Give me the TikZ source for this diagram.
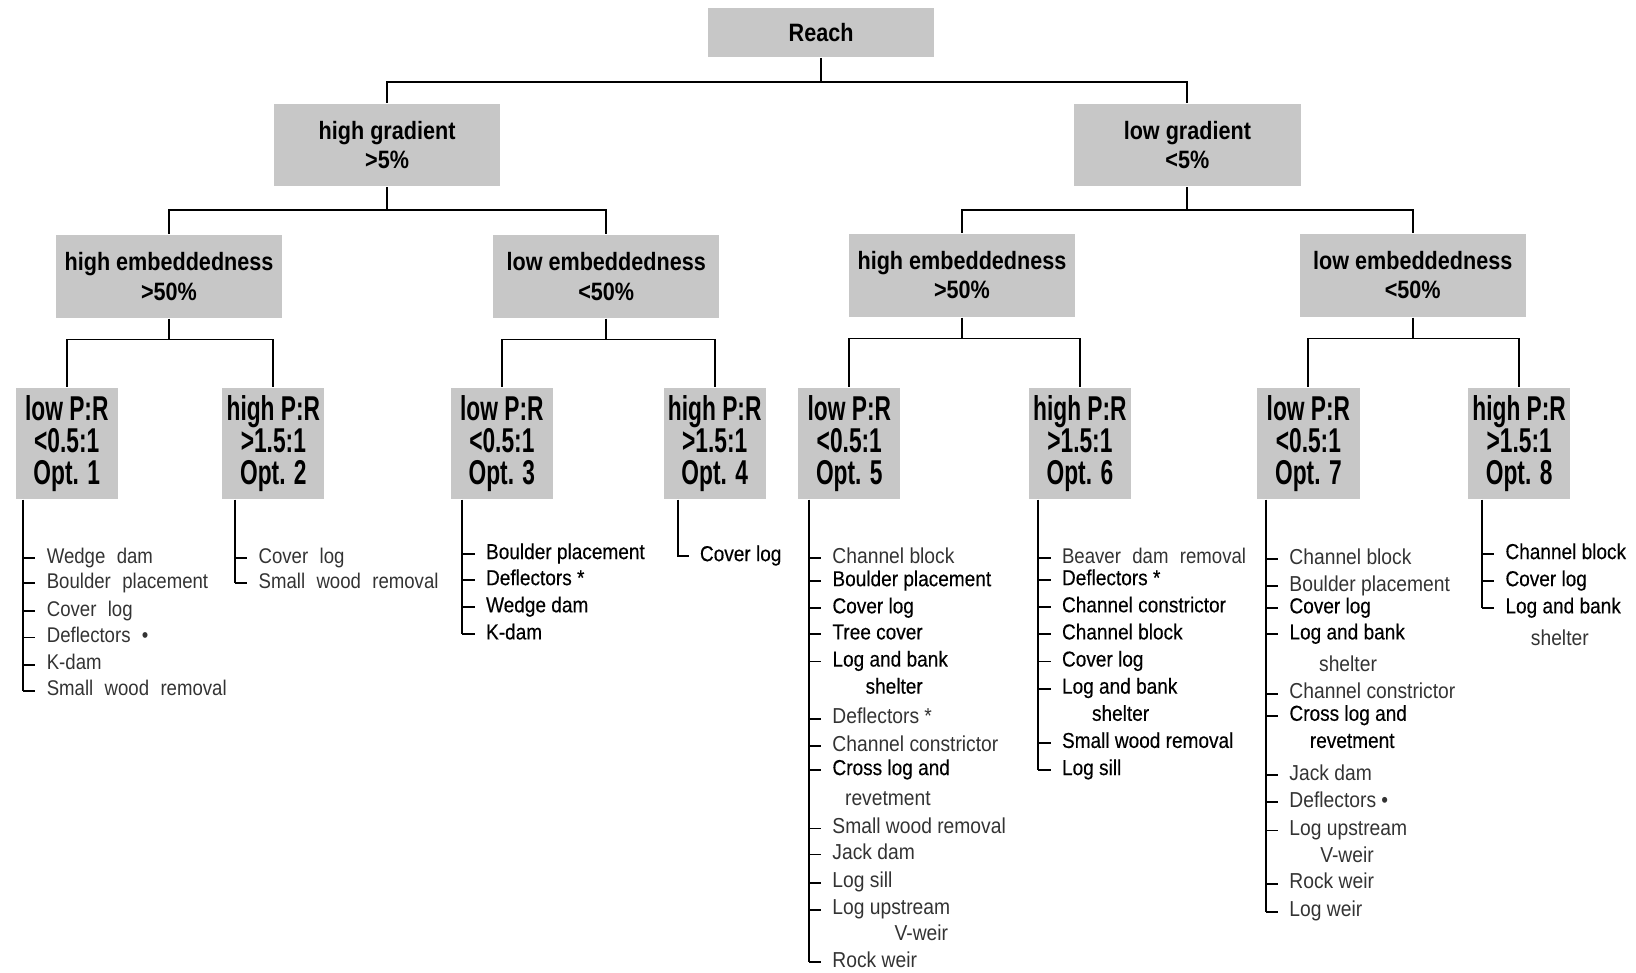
\documentclass[tikz,border=0pt]{standalone}
\usepackage{fontspec}
\setmainfont{Liberation Sans}
\newfontfamily\hdfont[FakeStretch=0.86]{Liberation Sans}
\newfontfamily\prfont[FakeStretch=0.66]{Liberation Sans}
\newfontfamily\itfont[FakeStretch=0.88,FakeBold=0.3]{Liberation Sans}
\newfontfamily\itlight[FakeStretch=0.89]{Liberation Sans}
\newfontfamily\itwide[FakeStretch=0.875,WordSpace=2.2]{Liberation Sans}

\tikzset{
  box/.style={fill=black!22, inner sep=0pt, align=center},
  hdbox/.style={box, minimum width=4.34cm, minimum height=1.58cm, font=\hdfont\bfseries\fontsize{13.7}{15.9}\selectfont},
  prbox/.style={box, minimum width=1.96cm, minimum height=2.12cm, font=\prfont\bfseries\fontsize{18.8}{17.4}\selectfont},
  rg/.style={anchor=west, inner xsep=0.2cm, inner ysep=0pt, text height=0.75em, text depth=0.2em, font=\itfont\fontsize{11.8}{12}\selectfont},
  lt/.style={rg, text=black!80, font=\itlight\fontsize{11.8}{12}\selectfont},
  ltw/.style={lt, font=\itwide\fontsize{11.6}{12}\selectfont},
  cont/.style={anchor=center, inner xsep=0pt}
}

\begin{document}
\begin{tikzpicture}[x=0.02cm,y=-0.02cm,line width=1pt]

    \useasboundingbox (0,0) rectangle (1568,932);

    % decision boxes
    \node[hdbox, minimum height=0.94cm] (reach) at (787,31) {Reach};
    \node[hdbox] (hg) at (371,139) {high gradient\\>5\%};
    \node[hdbox] (lg) at (1138,139) {low gradient\\<5\%};
    \node[hdbox] (he1) at (162,265) {high embeddedness\\>50\%};
    \node[hdbox] (le1) at (581,265) {low embeddedness\\<50\%};
    \node[hdbox] (he2) at (922,264) {high embeddedness\\>50\%};
    \node[hdbox] (le2) at (1354,264) {low embeddedness\\<50\%};

    % option boxes
    \node[prbox] (o1) at (64,425) {low P:R\\<0.5:1\\Opt. 1};
    \node[prbox] (o2) at (262,425) {high P:R\\>1.5:1\\Opt. 2};
    \node[prbox] (o3) at (481,425) {low P:R\\<0.5:1\\Opt. 3};
    \node[prbox] (o4) at (685,425) {high P:R\\>1.5:1\\Opt. 4};
    \node[prbox] (o5) at (814,425) {low P:R\\<0.5:1\\Opt. 5};
    \node[prbox] (o6) at (1035,425) {high P:R\\>1.5:1\\Opt. 6};
    \node[prbox] (o7) at (1254,425) {low P:R\\<0.5:1\\Opt. 7};
    \node[prbox] (o8) at (1456,425) {high P:R\\>1.5:1\\Opt. 8};

    % tree connectors
    \draw (reach.south) -- ++(0,23) coordinate (j0) -| (hg.north) (j0) -| (lg.north);
    \draw (hg.south) -- ++(0,22) coordinate (j1) -| (he1.north) (j1) -| (le1.north);
    \draw (lg.south) -- ++(0,22) coordinate (j2) -| (he2.north) (j2) -| (le2.north);
    \draw (he1.south) -- ++(0,20) coordinate (j3) -| (o1.north) (j3) -| (o2.north);
    \draw (le1.south) -- ++(0,20) coordinate (j4) -| (o3.north) (j4) -| (o4.north);
    \draw (he2.south) -- ++(0,20) coordinate (j5) -| (o5.north) (j5) -| (o6.north);
    \draw (le2.south) -- ++(0,20) coordinate (j6) -| (o7.north) (j6) -| (o8.north);

    % option 1
    \coordinate (v1) at (22,0 |- o1.south);
    \foreach \t/\y [count=\i] in {Wedge dam/535, Boulder placement/559, Cover log/586, Deflectors •/611, K-dam/637, Small wood removal/662}{
        \node[ltw] (o1-\i) at (34,\y) {\t};
        \draw (v1 |- o1-\i.west) -- (o1-\i.west);
    }
    \draw (v1) -- (v1 |- o1-6.west);

    % option 2
    \coordinate (v2) at (225,0 |- o2.south);
    \foreach \t/\y [count=\i] in {Cover log/535, Small wood removal/559}{
        \node[ltw] (o2-\i) at (237,\y) {\t};
        \draw (v2 |- o2-\i.west) -- (o2-\i.west);
    }
    \draw (v2) -- (v2 |- o2-2.west);

    % option 3
    \coordinate (v3) at (443,0 |- o3.south);
    \foreach \t/\y [count=\i] in {Boulder placement/531, Deflectors */556, Wedge dam/582, K-dam/608}{
        \node[rg] (o3-\i) at (455,\y) {\t};
        \draw (v3 |- o3-\i.west) -- (o3-\i.west);
    }
    \draw (v3) -- (v3 |- o3-4.west);

    % option 4
    \coordinate (v4) at (650,0 |- o4.south);
    \node[rg] (o4-1) at (660,533) {Cover log};
    \draw (v4) |- (o4-1.west);

    % option 5
    \coordinate (v5) at (775,0 |- o5.south);
    \foreach \t/\y/\s [count=\i] in {Channel block/535/lt, Boulder placement/557/rg, Cover log/583/rg, Tree cover/608/rg, Log and bank/634/rg, Deflectors */689/lt, Channel constrictor/715/lt, Cross log and/738/rg, Small wood removal/794/lt, Jack dam/819/lt, Log sill/846/lt, Log upstream/872/lt, Rock weir/922/lt}{
        \node[\s] (o5-\i) at (787,\y) {\t};
        \draw (v5 |- o5-\i.west) -- (o5-\i.west);
    }
    \draw (v5) -- (v5 |- o5-13.west);
    \node[rg, cont] (o5-c1) at (857,660) {shelter};
    \node[lt, cont] (o5-c2) at (851,767) {revetment};
    \node[lt, cont] (o5-c3) at (883,897) {V-weir};

    % option 6
    \coordinate (v6) at (995,0 |- o6.south);
    \foreach \t/\y/\s [count=\i] in {Beaver dam removal/535/ltw, Deflectors */556/rg, Channel constrictor/582/rg, Channel block/608/rg, Cover log/634/rg, Log and bank/660/rg, Small wood removal/712/rg, Log sill/738/rg}{
        \node[\s] (o6-\i) at (1007,\y) {\t};
        \draw (v6 |- o6-\i.west) -- (o6-\i.west);
    }
    \draw (v6) -- (v6 |- o6-8.west);
    \node[rg, cont] (o6-c1) at (1074,686) {shelter};

    % option 7
    \coordinate (v7) at (1213,0 |- o7.south);
    \foreach \t/\y/\s [count=\i] in {Channel block/536/lt, Boulder placement/562/lt, Cover log/583/rg, Log and bank/608/rg, Channel constrictor/665/lt, Cross log and/686/rg, Jack dam/743/lt, Deflectors •/769/lt, Log upstream/796/lt, Rock weir/847/lt, Log weir/874/lt}{
        \node[\s] (o7-\i) at (1225,\y) {\t};
        \draw (v7 |- o7-\i.west) -- (o7-\i.west);
    }
    \draw (v7) -- (v7 |- o7-11.west);
    \node[lt, cont] (o7-c1) at (1292,639) {shelter};
    \node[rg, cont] (o7-c2) at (1296,712) {revetment};
    \node[lt, cont] (o7-c3) at (1291,822) {V-weir};

    % option 8
    \coordinate (v8) at (1420,0 |- o8.south);
    \foreach \t/\y [count=\i] in {Channel block/531, Cover log/557, Log and bank/583}{
        \node[rg] (o8-\i) at (1432,\y) {\t};
        \draw (v8 |- o8-\i.west) -- (o8-\i.west);
    }
    \draw (v8) -- (v8 |- o8-3.west);
    \node[lt, cont] (o8-c1) at (1495,614) {shelter};

\end{tikzpicture}
\end{document}
